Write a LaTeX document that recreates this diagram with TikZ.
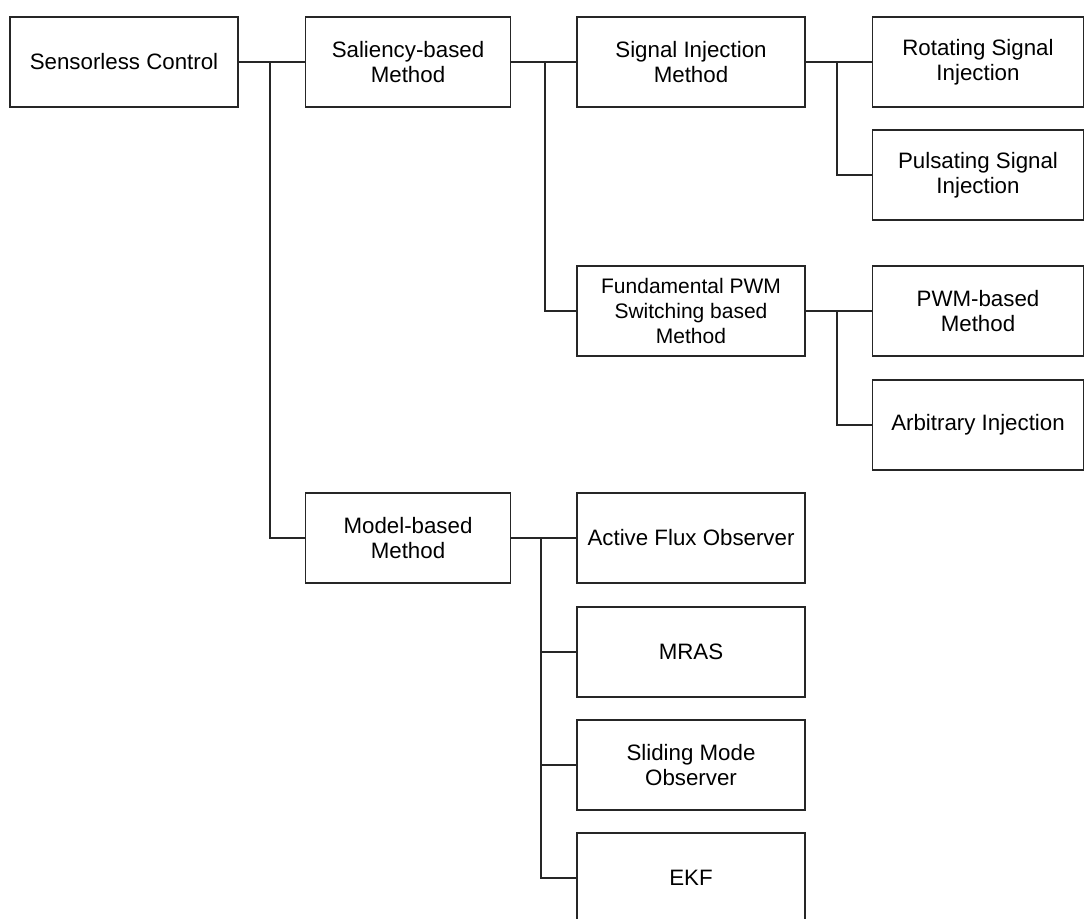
\documentclass[tikz,border=0pt]{standalone}
\usepackage{fontspec}
\setmainfont{Liberation Sans}
\begin{document}
\begin{tikzpicture}[x=1pt,y=-1pt,
  box/.style={draw=black!85, line width=1.1pt, minimum height=90pt, inner sep=0pt, align=center,
    font=\fontsize{22.3}{24.5}\selectfont},
  wa/.style={box, minimum width=228pt},
  wb/.style={box, minimum width=205pt},
  wc/.style={box, minimum width=211pt},
  conn/.style={draw=black!85, line width=1.1pt}]
\useasboundingbox (0,0) rectangle (1089,918);
% column 1
\node[wa] (sc) at (124,62) {Sensorless Control};
% column 2
\node[wb] (sal) at (408,62) {Saliency-based\\Method};
\node[wb] (mb) at (408,538) {Model-based\\Method};
% column 3
\node[wa] (si) at (691,62) {Signal Injection\\Method};
\node[wa, font=\fontsize{21}{25}\selectfont] (fp) at (691,311) {Fundamental PWM\\Switching based\\Method};
\node[wa] (af) at (691,538) {Active Flux Observer};
\node[wa] (mr) at (691,652) {MRAS};
\node[wa] (sm) at (691,765) {Sliding Mode\\Observer};
\node[wa] (ek) at (691,878) {EKF};
% column 4
\node[wc] (rs) at (978,62) {Rotating Signal\\Injection};
\node[wc] (ps) at (978,175) {Pulsating Signal\\Injection};
\node[wc] (pb) at (978,311) {PWM-based\\Method};
\node[wc] (ai) at (978,425) {Arbitrary Injection};
% junctions
\coordinate (j1) at (270,62);
\coordinate (j2) at (545,62);
\coordinate (j3) at (837,62);
\coordinate (j4) at (837,311);
\coordinate (j5) at (541,538);
% connectors
\draw[conn] (sc.east) -- (sal.west);
\draw[conn] (j1) |- (mb.west);
\draw[conn] (sal.east) -- (si.west);
\draw[conn] (j2) |- (fp.west);
\draw[conn] (si.east) -- (rs.west);
\draw[conn] (j3) |- (ps.west);
\draw[conn] (fp.east) -- (pb.west);
\draw[conn] (j4) |- (ai.west);
\draw[conn] (mb.east) -- (af.west);
\draw[conn] (j5) |- (mr.west);
\draw[conn] (j5) |- (sm.west);
\draw[conn] (j5) |- (ek.west);
\end{tikzpicture}
\end{document}
